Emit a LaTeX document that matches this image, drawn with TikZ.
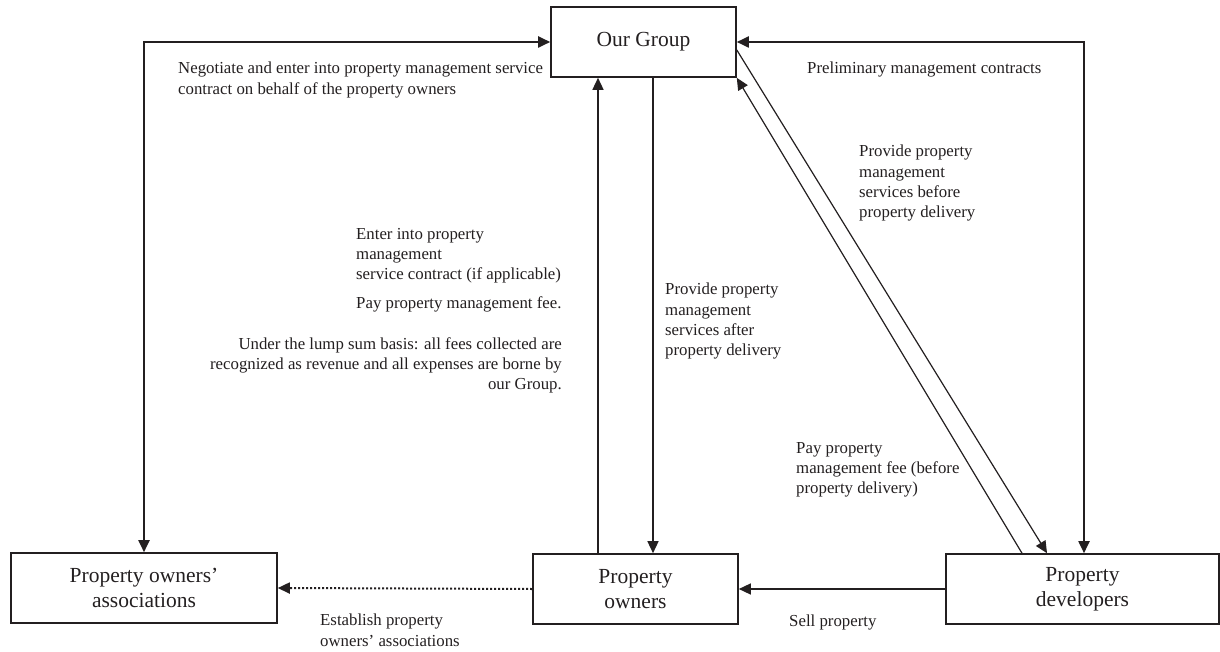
\documentclass[tikz,border=0pt]{standalone}
\usepackage{fontspec}
\setmainfont{Liberation Serif}
\usepackage{tikz}
\usetikzlibrary{arrows.meta}
\newcommand\lblfont{\fontsize{16.8}{20.3}\selectfont}
\newcommand\boxfont{\fontsize{21.5}{24.5}\selectfont}
\definecolor{ink}{RGB}{35,31,32}

\begin{document}
\begin{tikzpicture}[x=1pt,y=-1pt,>={Triangle[length=12pt,width=11pt]},color=ink]
    \tikzstyle{box}=[draw=ink, line width=1.6pt, minimum height=70pt, align=center, inner sep=0pt, font=\boxfont]
    \tikzstyle{lbl}=[anchor=north west, align=left, inner sep=0pt, font=\lblfont, text=ink]
    \tikzstyle{outer}=[<->, line width=1.9pt]
    \tikzstyle{flow}=[->, line width=1.4pt]
    \tikzstyle{slant}=[->, line width=1.2pt]

    \useasboundingbox (0,0) rectangle (1220,652);

    \node[box, minimum width=185pt] (grp) at (643.5,42)  {Our Group};
    \node[box, minimum width=266pt] (poa) at (144,588)   {Property owners'\\associations};
    \node[box, minimum width=205pt] (po)  at (635.5,589) {Property\\owners};
    \node[box, minimum width=273pt] (pd)  at (1082.5,589) {Property\\developers};

    \coordinate (poUp) at ([xshift=-37.5pt]po.north);
    \coordinate (poDn) at ([xshift=17.5pt]po.north);
    \coordinate (grpR) at ([yshift=-8pt]grp.east);
    \coordinate (pdIn) at ([xshift=-35.5pt]pd.north);
    \coordinate (pdOut) at ([xshift=-60.5pt]pd.north);

    \draw[outer] (grp.west) -| (poa.north);
    \draw[outer] (grp.east) -| ([xshift=1.5pt]pd.north);
    \path
     (poUp) edge[flow] (poUp |- grp.south)
     (poDn |- grp.south) edge[flow] (poDn)
     (grpR) edge[slant] (pdIn)
     (pdOut) edge[slant] (grp.south east)
     (pd.west) edge[flow] (po.east)
     (po.west) edge[->, line width=2pt, dash pattern=on 2pt off 2pt] (poa.east)
     ;

    \node[lbl] (negot) at (178,62) {Negotiate and enter into property management service\\contract on behalf of the property owners};
    \node[lbl] (prelim) at (807,62) {Preliminary management contracts};
    \node[lbl] (before) at (859,145) {Provide property\\management\\services before\\property delivery};
    \node[lbl] (enter) at (356,228) {Enter into property\\management\\service contract (if applicable)};
    \node[lbl] (payfee) at (356,296) {Pay property management fee.};
    \node[lbl, anchor=north east, align=right] (lump) at (562,337) {Under the lump sum basis: all fees collected are\\recognized as revenue and all expenses are borne by\\our Group.};
    \node[lbl] (after) at (665,283) {Provide property\\management\\services after\\property delivery};
    \node[lbl] (paydev) at (796,442) {Pay property\\management fee (before\\property delivery)};
    \node[lbl] (sell) at (789,615) {Sell property};
    \node[lbl] (estab) at (320,614) {Establish property\\owners' associations};
\end{tikzpicture}
\end{document}
